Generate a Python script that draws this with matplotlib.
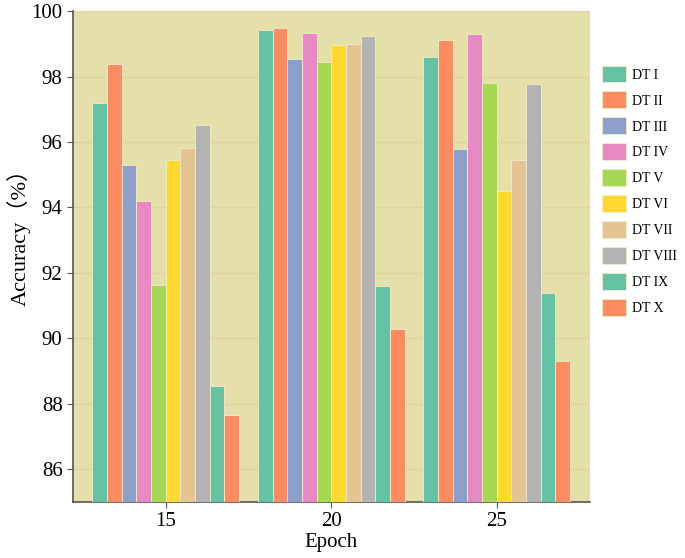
import numpy as np
import matplotlib
matplotlib.use("Agg")
import matplotlib.pyplot as plt

# data
epochs = ["15", "20", "25"]
series = ["DT I", "DT II", "DT III", "DT IV", "DT V",
          "DT VI", "DT VII", "DT VIII", "DT IX", "DT X"]
acc_15 = [97.20, 98.39, 95.30, 94.20, 91.64, 95.45, 95.82, 96.53, 88.55, 87.65]
acc_20 = [99.41, 99.50, 98.54, 99.33, 98.45, 98.96, 99.01, 99.24, 91.60, 90.30]
acc_25 = [98.60, 99.11, 95.80, 99.31, 97.80, 94.50, 95.45, 97.78, 91.40, 89.32]
colors = ["#66c2a5", "#fc8d62", "#8da0cb", "#e78ac3", "#a6d854",
          "#ffd92f", "#e5c494", "#b3b3b3", "#66c2a5", "#fc8d62"]

plt.rcParams['font.family'] = ['Liberation Serif', 'Noto Sans CJK SC']

def main():
    fig = plt.figure(figsize=(6.85, 5.58), dpi=100)
    ax = fig.add_axes([0.1066, 0.1004, 0.754, 0.8796])
    ax.set_facecolor("#e5dfa9")

    vals = np.array([acc_15, acc_20, acc_25])  # (epoch, series)
    x = np.arange(len(epochs))
    w = 0.0886
    n = len(series)
    for i in range(n):
        off = (i - (n - 1) / 2) * w
        ax.bar(x + off, vals[:, i] - 85, w, bottom=85, color=colors[i],
               edgecolor="#f3ecc8", linewidth=0.6, label=series[i], zorder=3)

    ax.set_ylim(85, 100)
    ax.set_xlim(-0.56, 2.56)
    ax.set_yticks(np.arange(86, 101, 2))
    ax.set_xticks(x)
    ax.set_xticklabels(epochs)
    ax.tick_params(labelsize=15, color="#555555", length=4)
    ax.grid(axis="y", color="#dbd4a0", linewidth=1.0, zorder=0)
    for s in ["top", "right"]:
        ax.spines[s].set_visible(False)
    for s in ["left", "bottom"]:
        ax.spines[s].set_color("#555555")
        ax.spines[s].set_linewidth(1.2)

    ax.set_xlabel("Epoch", fontsize=15, labelpad=1)
    ax.set_ylabel("Accuracy（%）", fontsize=16)
    ax.yaxis.set_label_coords(-0.082, 0.55)

    handles, labels = ax.get_legend_handles_labels()
    fig.legend(handles, labels, loc="upper left",
               bbox_to_anchor=(0.86, 0.905), frameon=False, fontsize=10,
               handlelength=1.75, handleheight=1.5, labelspacing=0.65,
               handletextpad=0.45)

    fig.savefig("out.png", dpi=100)

main()
